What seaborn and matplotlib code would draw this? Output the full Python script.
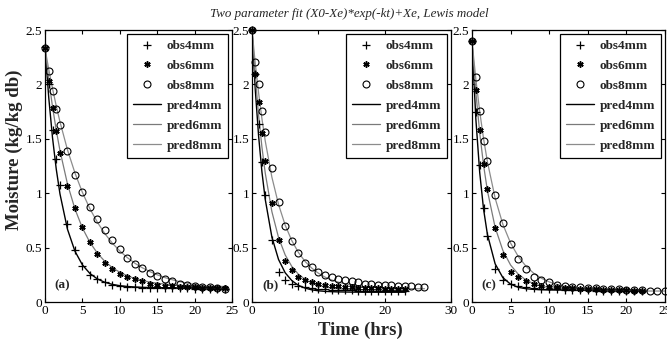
import matplotlib
matplotlib.use("Agg")
import matplotlib.pyplot as plt
import seaborn as sns
import pandas as pd

# ---- drying data: moisture content (kg/kg db) vs time (hrs) ----
# panel (a)
t_a = [0, 0.5, 1, 1.5, 2] + list(range(3, 25))
obs4_a = [2.34, 2.00, 1.58, 1.31, 1.08, 0.72, 0.48, 0.33, 0.25, 0.21, 0.18, 0.16, 0.15, 0.14,
          0.14, 0.13, 0.13, 0.13, 0.13, 0.13, 0.13, 0.13, 0.12, 0.12, 0.12, 0.12, 0.12]
obs6_a = [2.33, 2.03, 1.78, 1.57, 1.37, 1.07, 0.86, 0.69, 0.55, 0.44, 0.36, 0.30, 0.26, 0.23,
          0.21, 0.19, 0.17, 0.16, 0.15, 0.15, 0.14, 0.14, 0.14, 0.13, 0.13, 0.13, 0.13]
obs8_a = [2.33, 2.12, 1.94, 1.77, 1.63, 1.39, 1.17, 1.01, 0.87, 0.76, 0.66, 0.57, 0.49, 0.40,
          0.35, 0.31, 0.27, 0.24, 0.21, 0.19, 0.17, 0.16, 0.15, 0.14, 0.14, 0.13, 0.12]
pred4_a = [2.34, 1.877, 1.511, 1.222, 0.993, 0.669, 0.467, 0.341, 0.262, 0.212, 0.181, 0.162,
           0.150, 0.143, 0.138, 0.135, 0.133, 0.132, 0.131, 0.131, 0.130, 0.130, 0.130, 0.130,
           0.130, 0.130, 0.130]
pred6_a = [2.33, 2.044, 1.795, 1.579, 1.391, 1.085, 0.855, 0.680, 0.548, 0.449, 0.373, 0.316,
           0.273, 0.241, 0.216, 0.198, 0.183, 0.173, 0.165, 0.159, 0.154, 0.151, 0.148, 0.146,
           0.144, 0.143, 0.143]
pred8_a = [2.33, 2.138, 1.963, 1.802, 1.656, 1.399, 1.186, 1.007, 0.857, 0.733, 0.628, 0.541,
           0.469, 0.408, 0.357, 0.315, 0.280, 0.250, 0.225, 0.205, 0.187, 0.173, 0.161, 0.151,
           0.143, 0.135, 0.130]

# panel (b)
t46_b = [0, 0.5, 1, 1.5, 2] + list(range(3, 24))
t8_b = [0, 0.5, 1, 1.5, 2] + list(range(3, 27))
obs4_b = [2.50, 2.10, 1.64, 1.29, 0.98, 0.57, 0.28, 0.20, 0.17, 0.15, 0.14, 0.13, 0.12, 0.12,
          0.11, 0.11, 0.11, 0.11, 0.10, 0.10, 0.10, 0.10, 0.10, 0.10, 0.10, 0.10]
obs6_b = [2.50, 2.10, 1.84, 1.55, 1.30, 0.91, 0.57, 0.38, 0.29, 0.23, 0.20, 0.18, 0.17, 0.16,
          0.15, 0.15, 0.14, 0.14, 0.13, 0.13, 0.13, 0.13, 0.12, 0.12, 0.12, 0.12]
obs8_b = [2.50, 2.21, 2.00, 1.76, 1.56, 1.23, 0.92, 0.70, 0.56, 0.45, 0.36, 0.32, 0.28, 0.25,
          0.23, 0.21, 0.20, 0.19, 0.18, 0.17, 0.17, 0.16, 0.16, 0.16, 0.15, 0.15, 0.15, 0.14, 0.14]
pred4_b = [2.50, 1.948, 1.523, 1.195, 0.942, 0.596, 0.391, 0.269, 0.197, 0.153, 0.128, 0.112,
           0.103, 0.098, 0.095, 0.093, 0.092, 0.091, 0.091, 0.090, 0.090, 0.090, 0.090, 0.090,
           0.090, 0.090]
pred6_b = [2.50, 2.067, 1.712, 1.422, 1.184, 0.830, 0.593, 0.433, 0.327, 0.255, 0.208, 0.175,
           0.154, 0.139, 0.130, 0.123, 0.119, 0.116, 0.114, 0.113, 0.112, 0.111, 0.111, 0.110,
           0.110, 0.110]
pred8_b = [2.50, 2.189, 1.919, 1.684, 1.479, 1.147, 0.897, 0.707, 0.564, 0.455, 0.373, 0.312,
           0.265, 0.229, 0.203, 0.183, 0.167, 0.156, 0.147, 0.140, 0.135, 0.132, 0.129, 0.127,
           0.125, 0.124, 0.123, 0.122, 0.122]

# panel (c)
t46_c = [0, 0.5, 1, 1.5, 2] + list(range(3, 23))
t8_c = [0, 0.5, 1, 1.5, 2] + list(range(3, 26))
obs4_c = [2.40, 1.75, 1.26, 0.86, 0.61, 0.30, 0.20, 0.17, 0.15, 0.14, 0.13, 0.12, 0.12, 0.12,
          0.11, 0.11, 0.11, 0.11, 0.10, 0.10, 0.10, 0.10, 0.10, 0.10, 0.10]
obs6_c = [2.40, 1.95, 1.58, 1.27, 1.04, 0.68, 0.43, 0.28, 0.23, 0.19, 0.17, 0.15, 0.14, 0.14,
          0.13, 0.13, 0.12, 0.12, 0.12, 0.11, 0.11, 0.11, 0.11, 0.10, 0.10]
obs8_c = [2.40, 2.07, 1.76, 1.48, 1.30, 0.98, 0.73, 0.535, 0.395, 0.30, 0.23, 0.20, 0.18, 0.16,
          0.15, 0.14, 0.14, 0.13, 0.13, 0.12, 0.12, 0.12, 0.11, 0.11, 0.11, 0.10, 0.10, 0.10]
pred4_c = [2.40, 1.684, 1.192, 0.854, 0.621, 0.351, 0.224, 0.164, 0.135, 0.122, 0.116, 0.113,
           0.111, 0.110, 0.110, 0.110, 0.110, 0.110, 0.110, 0.110, 0.110, 0.110, 0.110, 0.110,
           0.110]
pred6_c = [2.40, 1.929, 1.556, 1.259, 1.023, 0.686, 0.474, 0.340, 0.255, 0.202, 0.168, 0.146,
           0.133, 0.125, 0.119, 0.116, 0.114, 0.113, 0.112, 0.111, 0.111, 0.110, 0.110, 0.110,
           0.110]
pred8_c = [2.40, 2.050, 1.753, 1.502, 1.289, 0.955, 0.714, 0.542, 0.418, 0.328, 0.264, 0.218,
           0.185, 0.161, 0.144, 0.132, 0.123, 0.116, 0.112, 0.108, 0.106, 0.104, 0.103, 0.102,
           0.101, 0.101, 0.101, 0.101]

panels = [
    dict(tag="(a)", xmax=25, xticks=[0, 5, 10, 15, 20, 25],
         obs=[(t_a, obs4_a), (t_a, obs6_a), (t_a, obs8_a)],
         pred=[(t_a, pred4_a), (t_a, pred6_a), (t_a, pred8_a)]),
    dict(tag="(b)", xmax=30, xticks=[0, 10, 20, 30],
         obs=[(t46_b, obs4_b), (t46_b, obs6_b), (t8_b, obs8_b)],
         pred=[(t46_b, pred4_b), (t46_b, pred6_b), (t8_b, pred8_b)]),
    dict(tag="(c)", xmax=25, xticks=[0, 5, 10, 15, 20, 25],
         obs=[(t46_c, obs4_c), (t46_c, obs6_c), (t8_c, obs8_c)],
         pred=[(t46_c, pred4_c), (t46_c, pred6_c), (t8_c, pred8_c)]),
]

obs_labels = ["obs4mm", "obs6mm", "obs8mm"]
pred_labels = ["pred4mm", "pred6mm", "pred8mm"]

sns.set_theme(style="ticks")
plt.rcParams.update({
    "font.family": ["Liberation Serif", "DejaVu Serif"],
    "axes.edgecolor": "black",
    "axes.linewidth": 0.9,
    "xtick.direction": "in",
    "ytick.direction": "in",
    "xtick.top": True,
    "ytick.right": True,
    "xtick.major.size": 3,
    "ytick.major.size": 3,
    "xtick.major.width": 0.8,
    "ytick.major.width": 0.8,
    "xtick.color": "black",
    "ytick.color": "black",
    "xtick.labelsize": 9.5,
    "ytick.labelsize": 9.5,
})

fig = plt.figure(figsize=(6.67, 3.39), dpi=100)
boxes = [(0.0675, 0.1091, 0.2804, 0.8024),
         (0.3778, 0.1091, 0.2984, 0.8024),
         (0.7076, 0.1091, 0.2894, 0.8024)]

obs_styles = [
    dict(marker="+", markersize=6, markeredgewidth=0.9, markerfacecolor="black", markeredgecolor="black"),
    dict(marker=(6, 2, 0), markersize=4.5, markeredgewidth=1.1, markerfacecolor="black", markeredgecolor="black"),
    dict(marker="o", markersize=5, markeredgewidth=0.8, markerfacecolor="none", markeredgecolor="black"),
]
pred_styles = [
    dict(color="black", linewidth=1.0),
    dict(color="#7a7a7a", linewidth=0.9),
    dict(color="#8c8c8c", linewidth=0.9),
]

for p, box in zip(panels, boxes):
    ax = fig.add_axes(box)
    for (tt, yy), st, lab in zip(p["pred"], pred_styles, pred_labels):
        df = pd.DataFrame({"t": tt, "m": yy})
        sns.lineplot(data=df, x="t", y="m", ax=ax, estimator=None, sort=False,
                     label=lab, **st)
    for (tt, yy), st, lab in zip(p["obs"], obs_styles, obs_labels):
        df = pd.DataFrame({"t": tt, "m": yy})
        sns.lineplot(data=df, x="t", y="m", ax=ax, estimator=None, sort=False,
                     linestyle="", color="black", label=lab, clip_on=False, **st)
    ax.set_xlim(0, p["xmax"])
    ax.set_ylim(0, 2.5)
    ax.set_xticks(p["xticks"])
    ax.set_xticklabels([str(v) for v in p["xticks"]])
    ax.set_yticks([0, 0.5, 1, 1.5, 2, 2.5])
    ax.set_yticklabels(["0", "0.5", "1", "1.5", "2", "2.5"])
    ax.tick_params(axis="both", pad=2)
    ax.set_xlabel("")
    ax.set_ylabel("")
    ax.text(0.05, 0.04, p["tag"], transform=ax.transAxes, fontsize=9.5,
            fontweight="bold", ha="left", va="bottom")
    handles, labels = ax.get_legend_handles_labels()
    order = [labels.index(l) for l in obs_labels + pred_labels]
    leg = ax.legend([handles[i] for i in order], [labels[i] for i in order],
                    loc="upper right", frameon=True, fancybox=False, framealpha=1,
                    edgecolor="black", borderpad=0.45, labelspacing=0.58,
                    handlelength=2.1, handletextpad=0.45, borderaxespad=0.3,
                    prop={"weight": "bold", "size": 9.5})
    leg.get_frame().set_linewidth(0.9)

fig.text(0.523, 0.958, "Two parameter fit (X0-Xe)*exp(-kt)+Xe, Lewis model",
         ha="center", va="center", fontsize=9.4, style="italic")
fig.text(0.54, 0.025, "Time (hrs)", ha="center", va="center", fontsize=13.5,
         fontweight="bold")
fig.text(0.022, 0.5575, "Moisture (kg/kg db)", ha="center", va="center",
         rotation=90, fontsize=13.5, fontweight="bold")

fig.savefig("out.png", dpi=100)
